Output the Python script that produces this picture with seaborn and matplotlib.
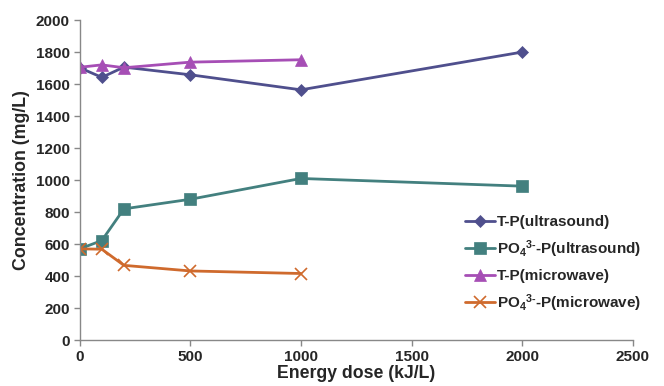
import matplotlib
matplotlib.use("Agg")
import matplotlib.pyplot as plt
import seaborn as sns
import pandas as pd

# Data
x_ultra = [0, 100, 200, 500, 1000, 2000]
tp_ultra = [1702, 1642, 1706, 1658, 1564, 1800]
po4_ultra = [570, 622, 820, 880, 1010, 962]
x_micro = [0, 100, 200, 500, 1000]
tp_micro = [1705, 1720, 1702, 1737, 1752]
po4_micro = [570, 568, 467, 432, 416]

labels = ["T-P(ultrasound)",
          r"PO$_4$$^{3\text{-}}$-P(ultrasound)",
          "T-P(microwave)",
          r"PO$_4$$^{3\text{-}}$-P(microwave)"]
colors = ["#4F4F8D", "#43807F", "#A64EB5", "#CF6A2D"]
markers = ["D", "s", "^", "x"]
msizes = [6, 8, 8, 8]

sns.set_theme(style="white")
plt.rcParams["font.family"] = ["Liberation Sans", "DejaVu Sans"]
plt.rcParams["font.weight"] = "bold"
plt.rcParams["mathtext.fontset"] = "custom"
plt.rcParams["mathtext.rm"] = "Liberation Sans:bold"
plt.rcParams["mathtext.bf"] = "Liberation Sans:bold"
plt.rcParams["mathtext.it"] = "Liberation Sans:bold"
plt.rcParams["mathtext.default"] = "bf"

frames = []
for xs, ys, lab in [(x_ultra, tp_ultra, labels[0]), (x_ultra, po4_ultra, labels[1]),
                    (x_micro, tp_micro, labels[2]), (x_micro, po4_micro, labels[3])]:
    frames.append(pd.DataFrame({"x": xs, "y": ys, "series": lab}))
df = pd.concat(frames, ignore_index=True)

fig = plt.figure(figsize=(6.64, 3.86), dpi=100)
ax = fig.add_axes([0.12, 0.119, 0.833, 0.829])

for lab, c, m, ms in zip(labels, colors, markers, msizes):
    sub = df[df["series"] == lab]
    sns.lineplot(data=sub, x="x", y="y", ax=ax, color=c, marker=m,
                 markersize=ms, markeredgecolor=c, markeredgewidth=1.2 if m == "x" else 0.5,
                 linewidth=2, label=lab, sort=False)

ax.set_xlim(0, 2500)
ax.set_ylim(0, 2000)
ax.set_xticks(range(0, 2501, 500))
ax.set_yticks(range(0, 2001, 200))
ax.tick_params(axis="both", labelsize=11, direction="out", length=4, color="#888888",
               left=True, bottom=True, width=1, pad=3)
for t in ax.get_xticklabels() + ax.get_yticklabels():
    t.set_fontweight("bold")
for s in ["top", "right"]:
    ax.spines[s].set_visible(False)
for s in ["left", "bottom"]:
    ax.spines[s].set_color("#888888")
    ax.spines[s].set_linewidth(1)
ax.set_xlabel("Energy dose (kJ/L)", fontsize=12.7, fontweight="bold", labelpad=1)
ax.set_ylabel("Concentration (mg/L)", fontsize=12.8, fontweight="bold", labelpad=4)
ax.grid(False)

leg = ax.legend(loc="upper left", bbox_to_anchor=(0.685, 0.41), frameon=False,
                fontsize=11, handlelength=2.0, handletextpad=0.1, labelspacing=0.6,
                borderaxespad=0)
for t in leg.get_texts():
    t.set_fontweight("bold")

fig.savefig("out.png", dpi=100)
